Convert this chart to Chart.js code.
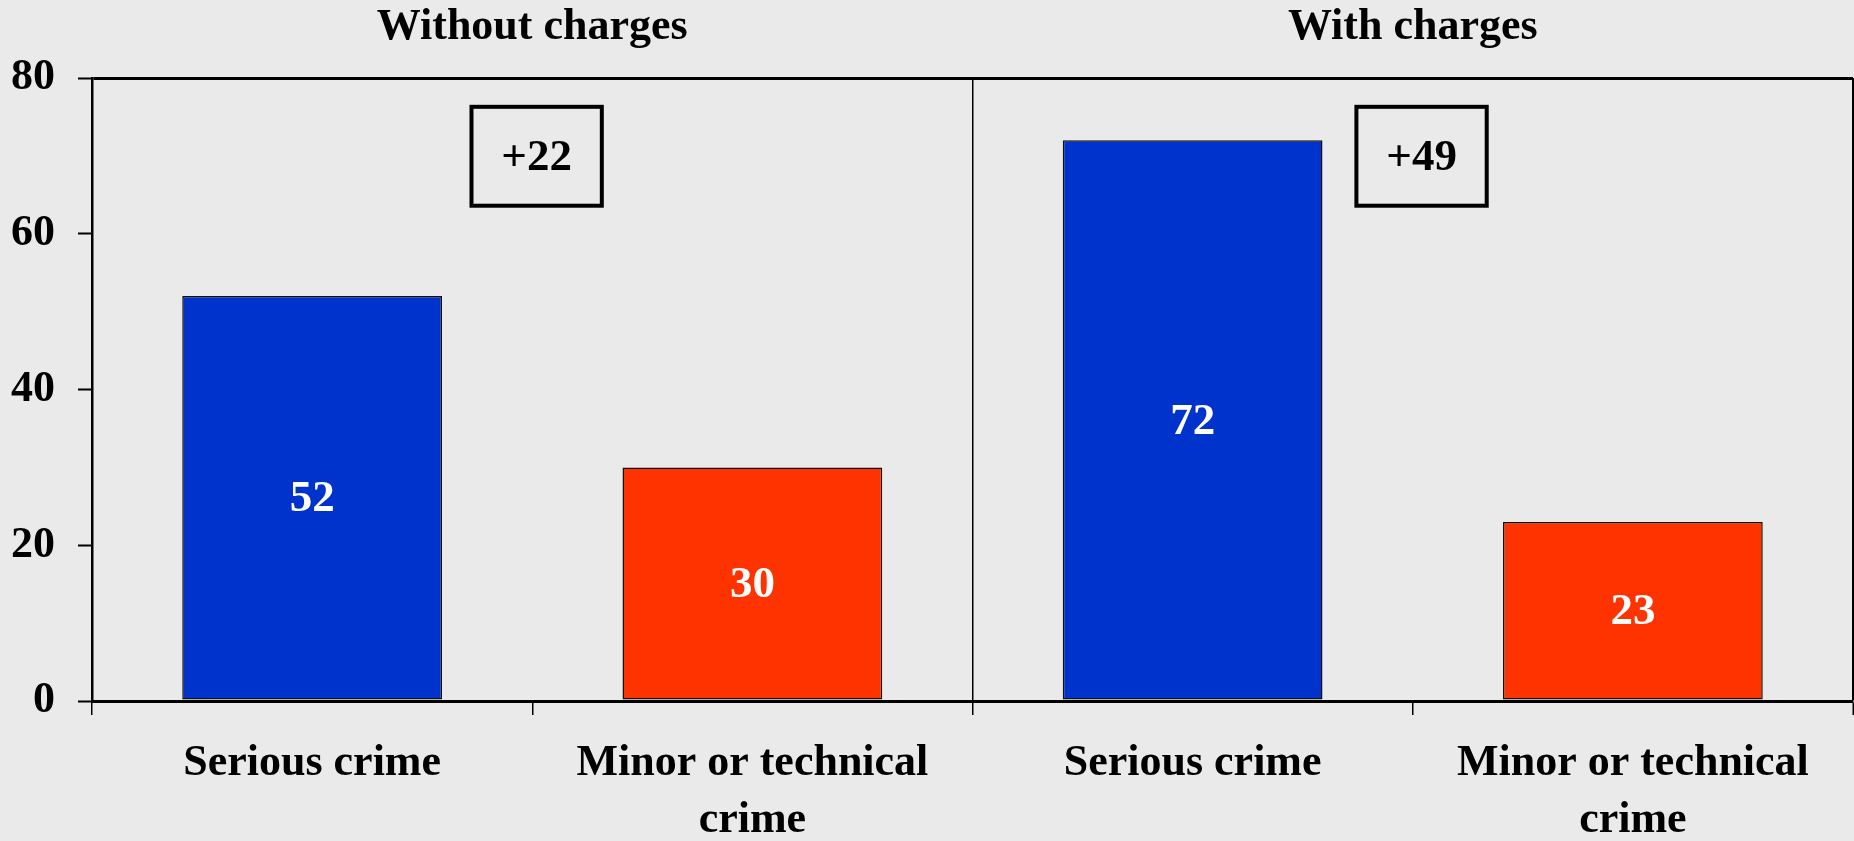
<!DOCTYPE html>
<html lang="en">
<head>
  <meta charset="UTF-8">
  <title>Serious vs minor crime, with and without charges</title>
  <style>
    body {
      margin: 0;
      padding: 0;
      background-color: #eaeaea;
    }
    .chart-container {
      width: 1854px;
      height: 841px;
      position: relative;
    }
  </style>
</head>
<body>
  <div class="chart-container">
    <canvas id="crimeChart"></canvas>
  </div>

  <script src="https://cdn.jsdelivr.net/npm/chart.js"></script>
  <script>
    // chart data
    const categories = [
      'Serious crime',
      ['Minor or technical', 'crime'],
      'Serious crime',
      ['Minor or technical', 'crime']
    ];
    const values = [52, 30, 72, 23];
    const barColors = ['#0033cc', '#ff3300', '#0033cc', '#ff3300'];
    const groupTitles = ['Without charges', 'With charges'];
    const diffLabels = ['+22', '+49'];
    const yTicks = [0, 20, 40, 60, 80];

    const FONT = "'Liberation Serif', 'Times New Roman', serif";

    // group titles over each half of the plot
    const groupTitlePlugin = {
      id: 'groupTitles',
      afterDraw(chart) {
        const x = chart.scales.x;
        const ctx = chart.ctx;
        ctx.save();
        ctx.font = 'bold 44px ' + FONT;
        ctx.fillStyle = '#000';
        ctx.textAlign = 'center';
        ctx.textBaseline = 'middle';
        groupTitles.forEach((t, i) => {
          ctx.fillText(t, x.getPixelForValue(i * 2 + 0.5), 28);
        });
        ctx.restore();
      }
    };

    // white value labels in the middle of each bar
    const barValuePlugin = {
      id: 'barValues',
      afterDatasetsDraw(chart) {
        const ctx = chart.ctx;
        const meta = chart.getDatasetMeta(0);
        ctx.save();
        ctx.font = 'bold 45px ' + FONT;
        ctx.fillStyle = '#fff';
        ctx.textAlign = 'center';
        ctx.textBaseline = 'middle';
        meta.data.forEach((bar, i) => {
          ctx.fillText(values[i], bar.x, (bar.y + bar.base) / 2 + 2);
        });
        ctx.restore();
      }
    };

    // boxed differences between the two bars of each group
    const diffBoxPlugin = {
      id: 'diffBoxes',
      afterDraw(chart) {
        const x = chart.scales.x;
        const y = chart.scales.y;
        const ctx = chart.ctx;
        const at = [0.51, 2.52];
        ctx.save();
        diffLabels.forEach((t, i) => {
          const left = x.getPixelForValue(at[i] - 0.148);
          const right = x.getPixelForValue(at[i] + 0.148);
          const top = y.getPixelForValue(76.3);
          const bottom = y.getPixelForValue(63.6);
          ctx.lineWidth = 4;
          ctx.strokeStyle = '#000';
          ctx.strokeRect(left, top, right - left, bottom - top);
          ctx.font = 'bold 45px ' + FONT;
          ctx.fillStyle = '#000';
          ctx.textAlign = 'center';
          ctx.textBaseline = 'middle';
          ctx.fillText(t, (left + right) / 2, (top + bottom) / 2 + 2);
        });
        ctx.restore();
      }
    };

    const ctx = document.getElementById('crimeChart').getContext('2d');
    const chart = new Chart(ctx, {
      type: 'bar',
      data: {
        labels: categories,
        datasets: [{
          data: values,
          backgroundColor: barColors,
          borderColor: '#111',
          borderWidth: 1.5,
          borderSkipped: false,
          barPercentage: 0.59,
          categoryPercentage: 1
        }]
      },
      options: {
        responsive: true,
        maintainAspectRatio: false,
        animation: false,
        layout: {
          padding: { top: 78, right: 1, left: 0, bottom: 0 }
        },
        scales: {
          x: {
            offset: true,
            afterFit(scale) { scale.height = 140; },
            grid: {
              offset: true,
              // the closing grid line (right frame) gets the scale context, which has no index
              color: c => (c.index === 2 || c.index === undefined) ? '#000' : 'rgba(0,0,0,0)',
              lineWidth: c => c.index === undefined ? 2.5 : 1.5,
              tickColor: '#000',
              tickWidth: 1.5,
              tickLength: 14
            },
            border: { display: true, color: '#000', width: 3 },
            ticks: {
              color: '#000',
              padding: 20,
              maxRotation: 0,
              autoSkip: false,
              font: { family: FONT, size: 44, weight: 'bold', lineHeight: 1.3 }
            }
          },
          y: {
            min: 0,
            max: 80,
            afterFit(scale) { scale.width = 92; },
            afterBuildTicks(scale) {
              scale.ticks = yTicks.map(v => ({ value: v }));
            },
            grid: {
              color: c => (c.tick && c.tick.value === 80) ? '#000' : 'rgba(0,0,0,0)',
              lineWidth: 3,
              tickColor: '#000',
              tickWidth: 2,
              tickLength: 14
            },
            border: { display: true, color: '#000', width: 2.5 },
            ticks: {
              color: '#000',
              padding: 23,
              font: { family: FONT, size: 44, weight: 'bold' }
            }
          }
        },
        plugins: {
          legend: { display: false },
          tooltip: { enabled: false }
        }
      },
      plugins: [groupTitlePlugin, barValuePlugin, diffBoxPlugin]
    });
  </script>
</body>
</html>
